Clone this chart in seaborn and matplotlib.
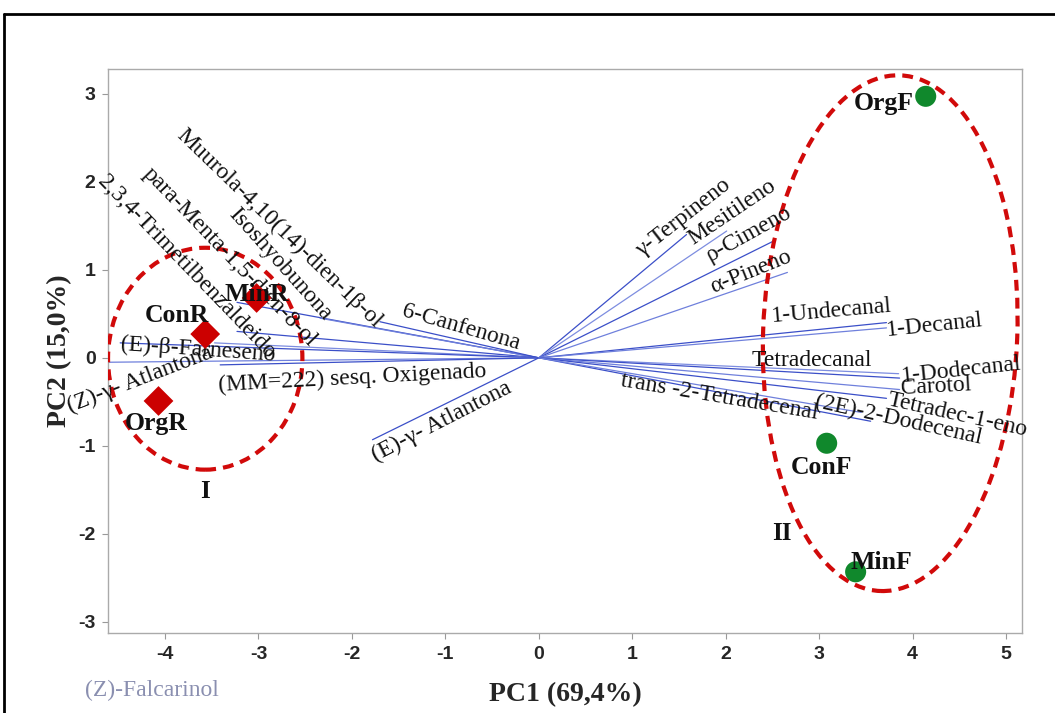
import matplotlib
matplotlib.use("Agg")
import matplotlib.pyplot as plt
from matplotlib.patches import Ellipse
from matplotlib.lines import Line2D
import seaborn as sns
import pandas as pd

# Sample scores on the first two principal components
samples = ["OrgF", "ConF", "MinF", "MinR", "ConR", "OrgR"]
pc1_scores = [4.14, 3.08, 3.39, -3.02, -3.57, -4.07]
pc2_scores = [2.97, -0.97, -2.43, 0.68, 0.27, -0.49]
sample_group = ["F", "F", "F", "R", "R", "R"]

# Variable loadings (arrow tips) for the compounds
compounds = [
    "Muurola-4,10(14)-dien-1β-ol", "Isoshyobunona", "para-Menta-1,5-dien-8-ol",
    "2,3,4-Trimetilbenzaldeido", "6-Canfenona", "(E)-β-Farneseno",
    "(Z)-γ- Atlantona", "(MM=222) sesq. Oxigenado", "(E)-γ- Atlantona",
    "γ-Terpineno", "Mesitileno", "ρ-Cimeno", "α-Pineno",
    "1-Undecanal", "1-Decanal", "Tetradecanal", "1-Dodecanal", "Carotol",
    "Tetradec-1-eno", "(2E)-2-Dodecenal", "trans -2-Tetradecenal",
]
load_pc1 = [-3.23, -2.34, -3.23, -3.47, -1.70, -4.48, -4.60, -3.41, -1.78,
            1.58, 2.01, 2.50, 2.66,
            3.72, 3.72, 3.85, 3.86, 3.86, 3.72, 3.55, 3.45]
load_pc2 = [0.63, 0.45, 0.30, 0.17, 0.41, 0.17, -0.05, -0.08, -0.93,
            1.40, 1.44, 1.32, 0.97,
            0.40, 0.34, -0.18, -0.23, -0.36, -0.46, -0.72, -0.62]

# Label placement for each compound: baseline start (data units) and angle
label_x = [-3.88, -3.33, -4.24, -4.73, -1.47, -4.48, -5.02, -3.43, -1.75,
           1.10, 1.65, 1.83, 1.86,
           2.49, 3.72, 2.28, 3.88, 3.88, 3.72, 2.95, 0.87]
label_y = [2.51, 1.63, 2.08, 1.99, 0.47, 0.09, -0.62, -0.38, -1.18,
           1.14, 1.28, 1.09, 0.74,
           0.41, 0.25, -0.09, -0.27, -0.41, -0.53, -0.56, -0.32]
label_rot = [-44, -48, -46, -46, -16, -4, 21, 3, 27,
             38, 34, 29, 22,
             5, 6, 0, 6, 3, -12.5, -12.5, -9.5]

# Light / dark blue alternate as in the loading lines
line_col = ["#3b4fc8", "#6f80dc", "#3b4fc8", "#7d8de0", "#3b4fc8", "#3b4fc8",
            "#6f80dc", "#3b4fc8", "#3b4fc8",
            "#3b4fc8", "#7d8de0", "#3b4fc8", "#6f80dc",
            "#3b4fc8", "#6f80dc", "#7d8de0", "#3b4fc8", "#6f80dc", "#3b4fc8",
            "#3b4fc8", "#6f80dc"]

x_ticks = [-4, -3, -2, -1, 0, 1, 2, 3, 4, 5]
y_ticks = [-3, -2, -1, 0, 1, 2, 3]

sns.set_theme(style="white")
plt.rcParams["font.family"] = ["Liberation Serif", "DejaVu Serif"]

fig = plt.figure(figsize=(10.55, 7.13), dpi=100)
ax = fig.add_axes([0.1024, 0.1122, 0.8663, 0.7910])
ax.set_xlim(-4.61, 5.17)
ax.set_ylim(-3.125, 3.28)

# Loading vectors
for lx, ly, c in zip(load_pc1, load_pc2, line_col):
    ax.plot([0, lx], [0, ly], color=c, lw=0.9, zorder=2)

for name, tx, ty, rot in zip(compounds, label_x, label_y, label_rot):
    ax.text(tx, ty, name, rotation=rot, rotation_mode="anchor",
            ha="left", va="baseline", fontsize=17, color="#111111",
            clip_on=False, zorder=4)

# Group ellipses
ax.add_patch(Ellipse((-3.57, -0.01), 2.08, 2.52, fill=False,
                     ec="#d10a0a", lw=3, ls=(0, (2.6, 1.7)), zorder=3))
ax.add_patch(Ellipse((3.76, 0.28), 2.72, 5.86, angle=-2, fill=False,
                     ec="#d10a0a", lw=3, ls=(0, (2.6, 1.7)), zorder=3))

# Sample scores
df = pd.DataFrame({"PC1": pc1_scores, "PC2": pc2_scores,
                   "grupo": sample_group, "amostra": samples})
sns.scatterplot(data=df, x="PC1", y="PC2", hue="grupo", style="grupo",
                markers={"F": "o", "R": "D"},
                palette={"F": "#10882c", "R": "#cc0000"},
                s=230, edgecolor="none", legend=False, ax=ax, zorder=5)

# Sample names (offset from each point)
name_dx = [-0.45, -0.05, 0.28, 0.0, -0.30, -0.02]
name_dy = [-0.08, -0.27, 0.10, 0.04, 0.21, -0.26]
for n, x, y, dx, dy in zip(samples, pc1_scores, pc2_scores, name_dx, name_dy):
    ax.text(x + dx, y + dy, n, ha="center", va="center", fontsize=18.5,
            fontweight="bold", color="#111111", zorder=6)

ax.text(-3.57, -1.52, "I", ha="center", va="center", fontsize=18,
        fontweight="bold", color="#111111")
ax.text(2.6, -2.0, "II", ha="center", va="center", fontsize=18,
        fontweight="bold", color="#111111")

ax.set_xticks(x_ticks)
ax.set_yticks(y_ticks)
ax.set_xticklabels([str(t) for t in x_ticks], fontsize=14, fontweight="bold",
                   family="Liberation Sans")
ax.set_yticklabels([str(t) for t in y_ticks], fontsize=14, fontweight="bold",
                   family="Liberation Sans")
ax.tick_params(axis="both", direction="out", length=4, width=0.8,
               color="#999999", pad=5, bottom=True, left=True)
for sp in ax.spines.values():
    sp.set_color("#aaaaaa")
    sp.set_linewidth(1.0)

ax.set_xlabel("PC1 (69,4%)", fontsize=20, fontweight="bold", labelpad=14)
ax.set_ylabel("PC2 (15,0%)", fontsize=20, fontweight="bold", labelpad=4)

fig.text(85 / 1055, 1 - 696 / 713, "(Z)-Falcarinol", fontsize=17,
         color="#8a8fb0", ha="left", va="baseline")

# Outer frame (top and left edges)
fig.add_artist(Line2D([4 / 1055, 1.0], [1 - 14 / 713, 1 - 14 / 713],
                      color="black", lw=2, transform=fig.transFigure))
fig.add_artist(Line2D([4 / 1055, 4 / 1055], [0.0, 1 - 14 / 713],
                      color="black", lw=2, transform=fig.transFigure))

fig.savefig("out.png", dpi=100)
